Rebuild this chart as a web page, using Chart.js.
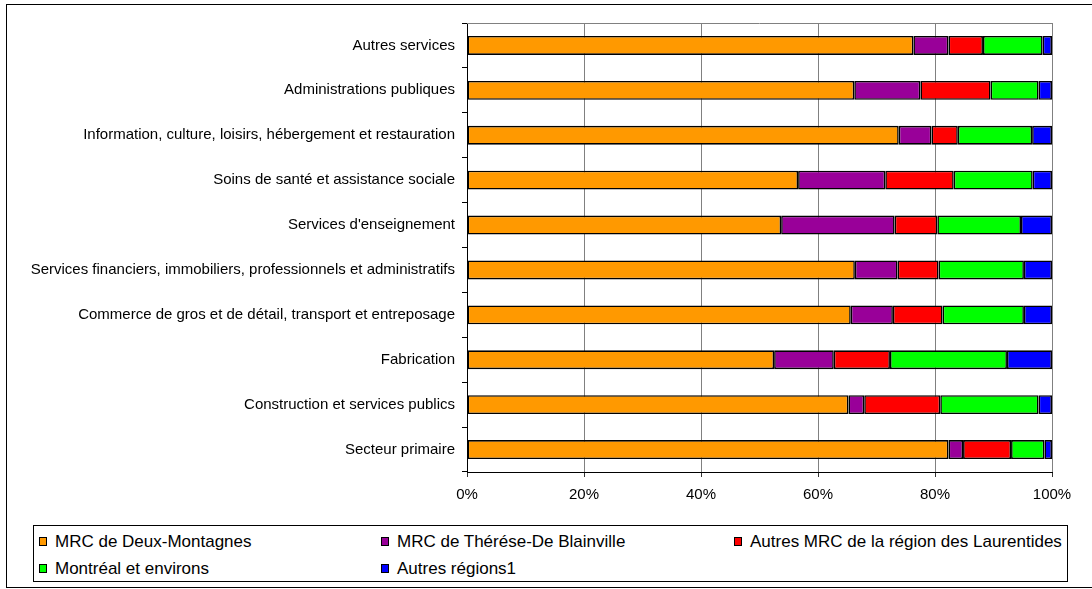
<!DOCTYPE html>
<html>
<head>
<meta charset="utf-8">
<script src="https://cdn.jsdelivr.net/npm/chart.js@4/dist/chart.umd.min.js"></script>
<style>
  body { margin: 0; background: #fff; font-family: "Liberation Sans", Arial, sans-serif; }
  #wrap { position: relative; width: 1092px; height: 589px; overflow: hidden; }
  #frame { position: absolute; left: 6px; top: 4px; width: 1100px; height: 582px; border: 1px solid #000; }
  #chart { position: absolute; left: 0; top: 0; }
  #legend { position: absolute; left: 33px; top: 525px; width: 1033px; height: 55px; border: 1px solid #000; background: #fff; }
  .item { position: absolute; font-size: 17px; line-height: 18px; color: #000; white-space: nowrap; }
  .item i { position: absolute; left: 0; top: 4px; width: 6px; height: 7px; border: 1px solid #000; }
  .item span { position: absolute; left: 16px; top: 0; }
</style>
</head>
<body>
<div id="wrap">
  <div id="frame"></div>
  <canvas id="chart" width="1092" height="589"></canvas>
  <div id="legend"></div>
</div>
<script>
var categories = [
  'Autres services',
  'Administrations publiques',
  'Information, culture, loisirs, hébergement et restauration',
  'Soins de santé et assistance sociale',
  "Services d'enseignement",
  'Services financiers, immobiliers, professionnels et administratifs',
  'Commerce de gros et de détail, transport et entreposage',
  'Fabrication',
  'Construction et services publics',
  'Secteur primaire'
];

var deuxMontagnes   = [76.3, 66.2, 73.8, 56.6, 53.7, 66.3, 65.6, 52.5, 65.2, 82.3];
var thereseBlainville = [6.0, 11.3, 5.6, 14.9, 19.4, 7.3, 7.2, 10.2, 2.7, 2.5];
var autresLaurentides = [5.9, 12.0, 4.5, 11.7, 7.3, 7.0, 8.5, 9.6, 13.0, 8.2];
var montreal        = [10.2, 8.2, 12.7, 13.5, 14.3, 14.6, 13.9, 20.0, 16.8, 5.7];
var autresRegions   = [1.6, 2.3, 3.4, 3.3, 5.3, 4.8, 4.8, 7.7, 2.3, 1.3];

var seriesNames = ['MRC de Deux-Montagnes', 'MRC de Thérése-De Blainville',
  'Autres MRC de la région des Laurentides', 'Montréal et environs', 'Autres régions1'];
var seriesColors = ['#FF9900', '#990099', '#FF0000', '#00FF00', '#0000FF'];
var seriesData = [deuxMontagnes, thereseBlainville, autresLaurentides, montreal, autresRegions];

var FONT = '"Liberation Sans", Arial, sans-serif';

// grey border on top of the plot area (right side comes from the 100% gridline)
var plotBorder = {
  id: 'plotBorder',
  afterDraw(chart) {
    var a = chart.chartArea, ctx = chart.ctx;
    ctx.save();
    ctx.strokeStyle = '#808080';
    ctx.lineWidth = 1;
    ctx.beginPath();
    ctx.moveTo(a.left, Math.round(a.top) + 0.5);
    ctx.lineTo(a.right, Math.round(a.top) + 0.5);
    ctx.stroke();
    ctx.restore();
  }
};

var datasets = seriesNames.map(function(name, i) {
  return {
    label: name,
    data: seriesData[i],
    backgroundColor: seriesColors[i],
    borderColor: '#000',
    borderWidth: 1.6,
    borderSkipped: false,
    barPercentage: 0.42,
    categoryPercentage: 1.0
  };
});

var chart = new Chart(document.getElementById('chart'), {
  type: 'bar',
  data: { labels: categories, datasets: datasets },
  options: {
    indexAxis: 'y',
    responsive: false,
    animation: false,
    layout: { padding: { top: 23, right: 40, left: 0, bottom: 87 } },
    plugins: {
      legend: { display: false },
      tooltip: { enabled: false }
    },
    scales: {
      x: {
        stacked: true,
        min: 0,
        max: 100,
        afterFit: function(scale) { scale.height = 30; },
        ticks: {
          stepSize: 20,
          padding: 9,
          color: '#000',
          font: { family: FONT, size: 15 },
          callback: function(v) { return v + '%'; }
        },
        grid: { color: '#808080', lineWidth: 1, tickLength: 5, tickColor: '#333' },
        border: { color: '#000', width: 1 }
      },
      y: {
        stacked: true,
        afterFit: function(scale) { scale.width = 467; },
        ticks: {
          padding: 7,
          color: '#000',
          font: { family: FONT, size: 15 }
        },
        grid: { drawOnChartArea: false, offset: true, tickLength: 5, tickColor: '#000' },
        border: { color: '#000', width: 1 }
      }
    }
  },
  plugins: [plotBorder]
});

// legend laid out like the original: 3 columns, 2 rows
var legendCols = [5, 347, 700];
var legendRows = [7, 34];
var legend = document.getElementById('legend');
chart.data.datasets.forEach(function(ds, i) {
  var el = document.createElement('div');
  el.className = 'item';
  el.style.left = legendCols[i % 3] + 'px';
  el.style.top = legendRows[Math.floor(i / 3)] + 'px';
  el.innerHTML = '<i style="background:' + ds.backgroundColor + '"></i><span>' + ds.label + '</span>';
  legend.appendChild(el);
});
</script>
</body>
</html>
